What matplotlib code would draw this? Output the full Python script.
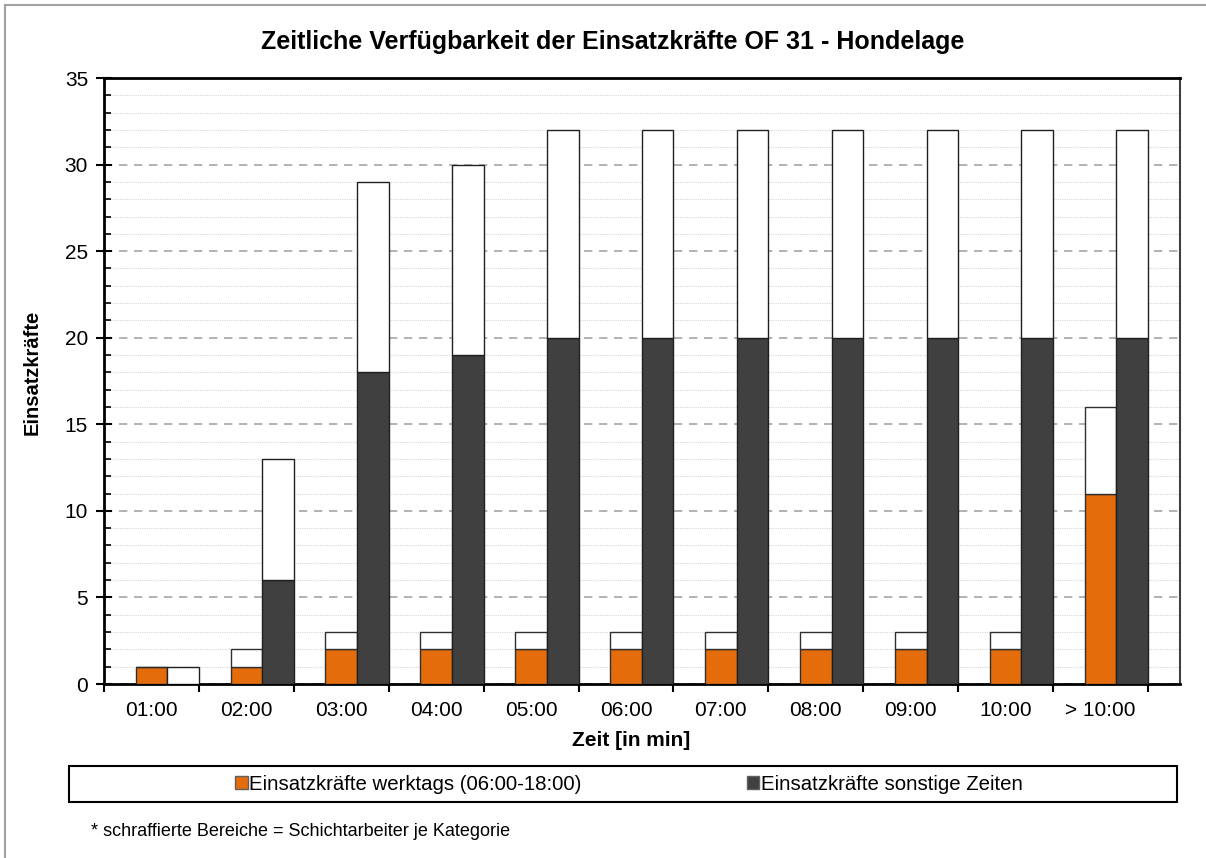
import matplotlib
matplotlib.use("Agg")
import matplotlib.pyplot as plt
from matplotlib.patches import Rectangle, Patch
import numpy as np

plt.rcParams['font.family'] = ['Liberation Sans', 'DejaVu Sans']

categories = ["01:00", "02:00", "03:00", "04:00", "05:00", "06:00", "07:00",
              "08:00", "09:00", "10:00", "> 10:00"]
werktags = [1, 1, 2, 2, 2, 2, 2, 2, 2, 2, 11]
werktags_total = [1, 2, 3, 3, 3, 3, 3, 3, 3, 3, 16]
sonstige = [0, 6, 18, 19, 20, 20, 20, 20, 20, 20, 20]
sonstige_total = [1, 13, 29, 30, 32, 32, 32, 32, 32, 32, 32]

title = "Zeitliche Verfügbarkeit der Einsatzkräfte OF 31 - Hondelage"
xlabel = "Zeit [in min]"
ylabel = "Einsatzkräfte"
legend_labels = ["Einsatzkräfte werktags (06:00-18:00)", "Einsatzkräfte sonstige Zeiten"]
footnote = "* schraffierte Bereiche = Schichtarbeiter je Kategorie"

ORANGE = "#E46C0A"
DARK = "#404040"

W, H = 1206, 858
fig = plt.figure(figsize=(W / 100, H / 100), dpi=100)

# outer border
fig.patches.append(Rectangle((5 / W, -0.1), 1.2, 1 - 5 / H + 0.1, transform=fig.transFigure,
                             fill=False, edgecolor="#A0A0A0", linewidth=1.5))

ax = fig.add_axes([104 / W, 1 - 684 / H, (1180 - 104) / W, (684 - 78) / H])

x = np.arange(len(categories))
bw = 1 / 3
w_rest = np.array(werktags_total) - np.array(werktags)
s_rest = np.array(sonstige_total) - np.array(sonstige)

ax.bar(x, werktags, width=bw, color=ORANGE, edgecolor="#303030", linewidth=1, zorder=3)
ax.bar(x, w_rest, width=bw, bottom=werktags, color="white", edgecolor="#303030", linewidth=1, zorder=3)
ax.bar(x + bw, sonstige, width=bw, color=DARK, edgecolor="#202020", linewidth=1, zorder=3)
ax.bar(x + bw, s_rest, width=bw, bottom=sonstige, color="white", edgecolor="#202020", linewidth=1, zorder=3)

ax.set_ylim(0, 35)
ax.set_xlim(-0.5, 10.5 + 32 / 95)

ax.set_yticks(np.arange(0, 36, 5))
ax.set_yticks(np.arange(0, 36, 1), minor=True)
ax.set_yticklabels([str(v) for v in range(0, 36, 5)], fontsize=15)
ax.yaxis.grid(True, which="major", linestyle=(0, (5, 4)), color="#A6A6A6", linewidth=1.2, zorder=0)
ax.yaxis.grid(True, which="minor", linestyle=(0, (1, 1)), color="#D8D8D8", linewidth=0.8, zorder=0)
ax.tick_params(axis="y", which="major", direction="inout", length=11, width=1.5, pad=6)
ax.tick_params(axis="y", which="minor", direction="in", length=5, width=1.2)

ax.set_xticks(x)
ax.set_xticklabels(categories, fontsize=15)
ax.set_xticks(np.arange(-0.5, 11, 1), minor=True)
ax.tick_params(axis="x", which="major", length=0, pad=12)
ax.tick_params(axis="x", which="minor", direction="out", length=6, width=1.5)

for s in ["left", "bottom", "top"]:
    ax.spines[s].set_linewidth(2)
    ax.spines[s].set_color("black")
ax.spines["right"].set_linewidth(1.5)
ax.spines["right"].set_color("#404040")

fig.text(613 / W, 1 - 42 / H, title, ha="center", va="center", fontsize=18, fontweight="bold")
fig.text(631 / W, 1 - 740 / H, xlabel, ha="center", va="center", fontsize=15, fontweight="bold")
fig.text(32 / W, 1 - 372 / H, ylabel, ha="center", va="center", rotation=90, fontsize=14.5, fontweight="bold")

# legend box
fig.patches.append(Rectangle((69 / W, 1 - 802 / H), (1177 - 69) / W, 36 / H, transform=fig.transFigure,
                             fill=False, edgecolor="black", linewidth=1.5))
handles = [Patch(facecolor=ORANGE, edgecolor="#606060"), Patch(facecolor=DARK, edgecolor="#606060")]
fig.legend(handles, legend_labels, loc="center", bbox_to_anchor=(629 / W, 1 - 784 / H), ncol=2,
           frameon=False, fontsize=14.7, handlelength=0.6, handleheight=0.6, handletextpad=0.08,
           columnspacing=8.1, borderpad=0)

fig.text(91 / W, 1 - 832 / H, footnote, ha="left", va="center", fontsize=13)

fig.savefig("out.png", dpi=100)
